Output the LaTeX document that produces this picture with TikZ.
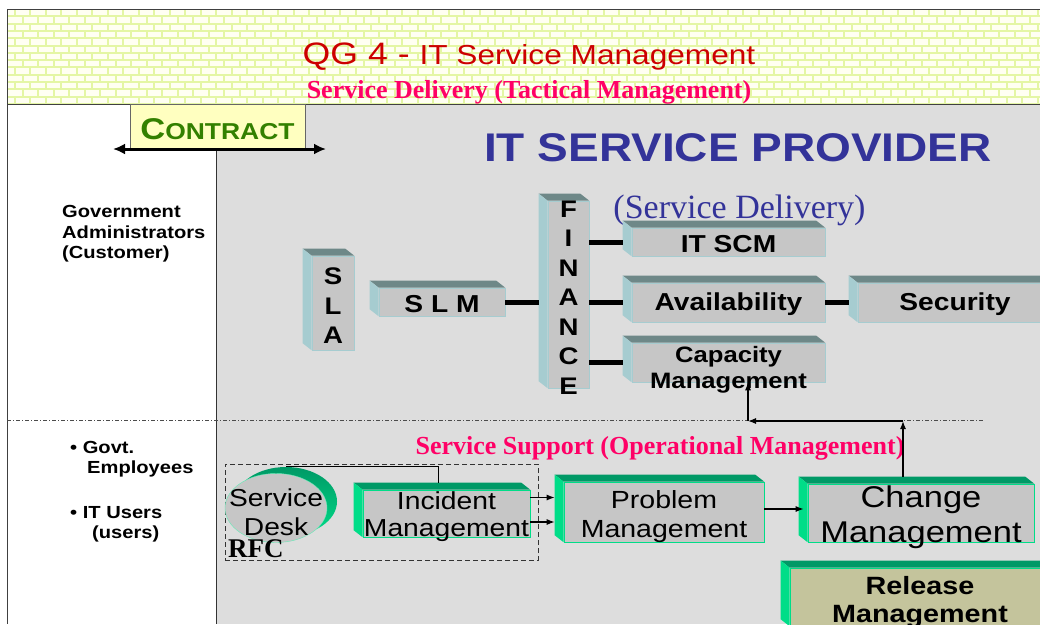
\documentclass[tikz,border=0pt]{standalone}
\usepackage{fontspec}
\setmainfont{Liberation Serif}
\setsansfont{Liberation Sans}[FakeStretch=1.15]
\usetikzlibrary{arrows.meta,shapes.geometric}

\definecolor{brickline}{RGB}{228,246,165}
\definecolor{brickface}{RGB}{255,255,242}
\definecolor{panelgrey}{RGB}{221,221,221}
\definecolor{frontgrey}{RGB}{198,198,198}
\definecolor{topgrey}{RGB}{110,136,136}
\definecolor{sidegrey}{RGB}{166,204,208}
\definecolor{topgreen}{RGB}{0,153,102}
\definecolor{sidegreen}{RGB}{0,221,136}
\definecolor{releasefill}{RGB}{196,196,156}
\definecolor{titlered}{RGB}{204,0,0}
\definecolor{pinkred}{RGB}{255,0,102}
\definecolor{navy}{RGB}{51,51,153}
\definecolor{contractgreen}{RGB}{51,128,0}
\definecolor{contractfill}{RGB}{255,255,192}

% top and left faces of a 3d box
\newcommand{\boxfaces}[3]{%
  \fill[#2] (#1.north west) -- ++(-9,-7) -- ([shift={(-9,-7)}]#1.north east) -- (#1.north east) -- cycle;
  \fill[#3] (#1.north west) -- ++(-9,-7) -- ([shift={(-9,-7)}]#1.south west) -- (#1.south west) -- cycle;
}

\tikzset{
  greybox/.style={draw=sidegrey, fill=frontgrey, line width=0.6pt},
  greenbox/.style={draw=sidegreen, fill=frontgrey, line width=0.6pt},
  boxtext/.style={font=\sffamily\bfseries\fontsize{24.5}{27}\selectfont, align=center, yshift=-2pt},
  vtext/.style={font=\sffamily\bfseries\fontsize{24}{29.5}\selectfont, align=center, yshift=-3pt},
  optext/.style={font=\sffamily\fontsize{24.6}{27}\selectfont, align=center, yshift=-3.5pt},
  sidetext/.style={font=\sffamily\bfseries\fontsize{17.5}{20.5}\selectfont, align=left, anchor=west},
  link/.style={line width=5pt},
  arr/.style={line width=1.2pt, -{Latex[length=8pt,width=6pt]}},
}

\begin{document}
\begin{tikzpicture}[x=1pt, y=-1pt, every node/.append style={inner sep=0pt}]
\useasboundingbox (0,0) rectangle (1040,624);
\clip (0,0) rectangle (1040,624);
\fill[white] (0,0) rectangle (1040,624);

% header with bricks
\begin{scope}
  \clip (7,9) rectangle (1040,104);
  \fill[brickline] (7,9) rectangle (1040,104);
  \foreach \r in {0,...,12}{
    \pgfmathsetmacro{\off}{mod(\r,2)*7.75}
    \foreach \c in {0,...,67}
      \fill[brickface] (7+\off+\c*15.5-6.75, 10+\r*7.3) rectangle ++(13.5,5.3);
  }
\end{scope}
\draw[black!75, line width=1pt] (7,9) -- (1040,9) (7,104) -- (1040,104) (7,9) -- (7,624);

% provider panel
\fill[panelgrey] (216,104.5) rectangle (1040,624);
\draw[black!80, line width=0.8pt] (216,150) -- (216,624);
\draw[black!70, line width=0.6pt, dash pattern=on 4pt off 2pt on 1pt off 2pt] (7,420.5) -- (983,420.5);

\node[font=\sffamily, text=titlered] (title) at (529,57)
  {{\fontsize{31}{31}\selectfont QG 4 - }{\fontsize{27.5}{27.5}\selectfont IT Service Management}};
\node[font=\bfseries\fontsize{26}{26}\selectfont, text=pinkred] (subtitle) at (529,92.5)
  {Service Delivery (Tactical Management)};

\node[draw=black!60, fill=contractfill, minimum width=175pt, minimum height=44pt] (contract) at (217.5,126) {};
\node[font=\sffamily\bfseries, text=contractgreen, yshift=-3.5pt] (contracttext) at (contract)
  {{\fontsize{30}{30}\selectfont C}{\fontsize{23}{23}\selectfont ONTRACT}};
\coordinate (cl) at (113,149);
\coordinate (cr) at (326,149);
\draw[line width=3pt, {Latex[length=12pt,width=11pt]}-{Latex[length=12pt,width=11pt]}] (cl) -- (cr);

\node[font=\sffamily\bfseries\fontsize{40}{40}\selectfont, text=navy] (provider) at (738,148) {IT SERVICE PROVIDER};
\node[font=\fontsize{34}{34}\selectfont, text=navy] (delivery) at (739.5,210) {(Service Delivery)};

\node[sidetext] (customer) at (62,234) {Government\\Administrators\\(Customer)};
\node[sidetext] (govt) at (70,459) {• Govt.\\\hspace*{17pt}Employees};
\node[sidetext] (itusers) at (70,524.5) {• IT Users\\\hspace*{22pt}(users)};

% service delivery boxes
\node[greybox, minimum width=42pt, minimum height=94pt] (sla) at (333,303) {};
\boxfaces{sla}{topgrey}{sidegrey}
\node[vtext] (slatext) at (sla) {S\\L\\A};
\node[greybox, minimum width=126pt, minimum height=28pt] (slm) at (442,302) {};
\boxfaces{slm}{topgrey}{sidegrey}
\node[boxtext] (slmtext) at (slm) {S L M};
\node[greybox, minimum width=41pt, minimum height=187pt] (finance) at (568.5,294.5) {};
\boxfaces{finance}{topgrey}{sidegrey}
\node[vtext] (financetext) at (finance) {F\\I\\N\\A\\N\\C\\E};
\node[greybox, minimum width=193pt, minimum height=28pt] (itscm) at (728.5,242) {};
\boxfaces{itscm}{topgrey}{sidegrey}
\node[boxtext] (itscmtext) at (itscm) {IT SCM};
\node[greybox, minimum width=193pt, minimum height=39pt] (avail) at (728.5,302.5) {};
\boxfaces{avail}{topgrey}{sidegrey}
\node[boxtext] (availtext) at (avail) {Availability};
\node[greybox, minimum width=194pt, minimum height=39pt] (security) at (955,302.5) {};
\boxfaces{security}{topgrey}{sidegrey}
\node[boxtext] (securitytext) at (security) {Security};
\node[greybox, minimum width=193pt, minimum height=39pt] (capacity) at (728.5,362.5) {};
\boxfaces{capacity}{topgrey}{sidegrey}
\node[boxtext, font=\sffamily\bfseries\fontsize{22.3}{26}\selectfont, yshift=-5pt] (capacitytext) at (capacity) {Capacity\\Management};

\draw[link] (slm.east) -- ([xshift=-9pt]slm.east -| finance.west);
\draw[link] (finance.east |- itscm.west) -- ([xshift=-9pt]itscm.west);
\draw[link] (finance.east |- avail.west) -- ([xshift=-9pt]avail.west);
\draw[link] (finance.east |- capacity.west) -- ([xshift=-9pt]capacity.west);
\draw[link] (avail.east) -- ([xshift=-9pt]security.west);

% service support
\node[font=\bfseries\fontsize{26}{26}\selectfont, text=pinkred] (support) at (660,448) {Service Support (Operational Management)};
\node[draw=black!80, dash pattern=on 5pt off 3pt, line width=0.8pt, minimum width=313pt, minimum height=96pt] (rfcbox) at (381.5,512) {};

\node[ellipse, top color=topgreen, bottom color=sidegreen, minimum width=102pt, minimum height=69pt] (deskshade) at (286,501.5) {};
\node[ellipse, fill=frontgrey, draw=sidegreen!60!white, minimum width=102pt, minimum height=69pt] (desk) at (276,508) {};
\node[optext, font=\sffamily\fontsize{24.5}{29}\selectfont, yshift=-1pt] (desktext) at (desk) {Service\\Desk};
\node[font=\bfseries\fontsize{27}{27}\selectfont, anchor=west] (rfc) at (228,549) {RFC};

\node[greenbox, minimum width=167pt, minimum height=47pt] (incident) at (446.5,513.5) {};
\boxfaces{incident}{topgreen}{sidegreen}
\node[optext] (incidenttext) at (incident) {Incident\\Management};
\node[greenbox, minimum width=200pt, minimum height=60pt] (problem) at (664,512) {};
\boxfaces{problem}{topgreen}{sidegreen}
\node[optext, font=\sffamily\fontsize{24.8}{29}\selectfont, yshift=-1pt] (problemtext) at (problem) {Problem\\Management};
\node[greenbox, minimum width=226pt, minimum height=58pt] (change) at (921,513) {};
\boxfaces{change}{topgreen}{sidegreen}
\node[optext, font=\sffamily\fontsize{30}{35}\selectfont, yshift=-1pt] (changetext) at (change) {Change\\Management};
\node[greenbox, fill=releasefill, minimum width=260pt, minimum height=58pt] (release) at (920,597) {};
\boxfaces{release}{topgreen}{sidegreen}
\node[boxtext, font=\sffamily\bfseries\fontsize{25}{28}\selectfont, yshift=-3pt] (releasetext) at (release) {Release\\Management};

\draw[line width=1pt] (deskshade.north) -| ([xshift=-8pt, yshift=7pt]incident.north);
\draw[arr, shorten >=9pt] ([yshift=16pt]incident.east) -- ([yshift=16pt]incident.east -| problem.west);
\draw[arr, shorten >=9pt] ([yshift=-8.5pt]incident.east) -- ([yshift=-8.5pt]incident.east -| problem.west);
\draw[arr, shorten >=4pt] ([yshift=3pt]problem.east) -- ([yshift=3pt]problem.east -| change.west);

\coordinate (bendr) at (903,421);
\coordinate (bendl) at (748,421);
\draw[arr] ([yshift=7pt]bendr |- change.north) -- (bendr);
\draw[arr] (bendr) -- (bendl);
\draw[arr] (bendl) -- (bendl |- capacity.south);
\end{tikzpicture}
\end{document}
